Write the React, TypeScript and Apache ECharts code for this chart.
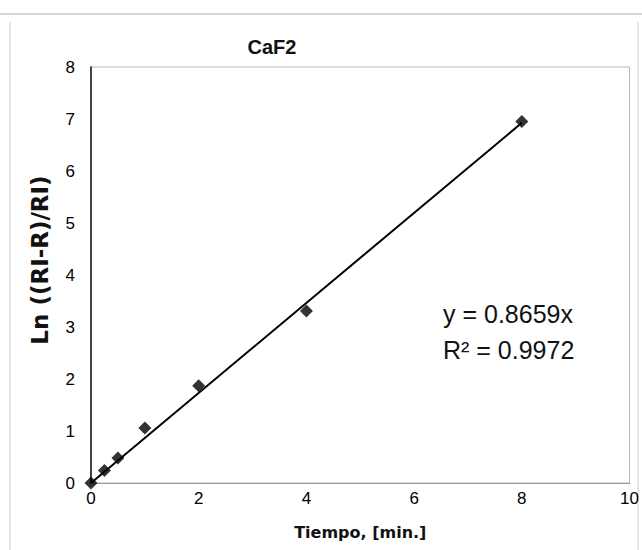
import React, { useEffect, useRef } from "react";
import * as echarts from "echarts";

const timeValues = [0, 0.25, 0.5, 1, 2, 4, 8];
const lnValues = [0, 0.24, 0.48, 1.06, 1.87, 3.31, 6.95];
const trendX = [0, 8];
const trendY = [0, 6.927];
const xTicks = [0, 2, 4, 6, 8, 10];
const yTicks = [0, 1, 2, 3, 4, 5, 6, 7, 8];
const equationLines = ["y = 0.8659x", "R² = 0.9972"];
const yAxisTitle = "Ln ((RI-R)/RI)";
const xAxisTitle = "Tiempo, [min.]";

const FONT = "'Liberation Sans', Arial, sans-serif";
const WIDE = "'DejaVu Sans', Verdana, sans-serif";

export default function App() {
  const ref = useRef<HTMLDivElement>(null);
  useEffect(() => {
    document.body.style.margin = "0";
    if (!ref.current) return;
    const chart = echarts.init(ref.current, undefined, { renderer: "svg" });
    chart.setOption({
      animation: false,
      backgroundColor: "#fff",
      title: {
        text: "CaF2",
        left: 267,
        top: 32,
        textAlign: "center",
        textStyle: { fontFamily: FONT, fontSize: 20, fontWeight: "bold", color: "#111" },
      },
      grid: {
        left: 91,
        right: 12,
        top: 67,
        bottom: 67,
        show: true,
        borderColor: "#b8b8b8",
        borderWidth: 1,
        backgroundColor: "transparent",
      },
      xAxis: {
        type: "value",
        min: xTicks[0],
        max: xTicks[xTicks.length - 1],
        interval: 2,
        name: xAxisTitle,
        nameLocation: "middle",
        nameGap: 41,
        nameTextStyle: { fontFamily: WIDE, fontSize: 16, fontWeight: "bold", color: "#111" },
        axisLine: { lineStyle: { color: "#999", width: 1 } },
        axisTick: { show: false },
        splitLine: { show: false },
        axisLabel: { fontFamily: FONT, fontSize: 17, color: "#000", margin: 7 },
      },
      yAxis: {
        type: "value",
        min: yTicks[0],
        max: yTicks[yTicks.length - 1],
        interval: 1,
        axisLine: { show: true, lineStyle: { color: "#111", width: 1.5 } },
        axisTick: { show: false },
        splitLine: { show: false },
        axisLabel: { fontFamily: FONT, fontSize: 17, color: "#000", margin: 16 },
      },
      graphic: [
        { type: "line", shape: { x1: 0, y1: 14, x2: 642, y2: 14 }, style: { stroke: "#aaa", lineWidth: 1 } },
        { type: "line", shape: { x1: 10, y1: 22, x2: 10, y2: 550 }, style: { stroke: "#ccc", lineWidth: 1 } },
        { type: "line", shape: { x1: 638, y1: 22, x2: 638, y2: 550 }, style: { stroke: "#ccc", lineWidth: 1 } },
        {
          type: "text",
          x: 40,
          y: 260,
          rotation: Math.PI / 2,
          style: {
            text: yAxisTitle,
            font: `bold 23px ${WIDE}`,
            fill: "#111",
            align: "center",
            verticalAlign: "middle",
          },
        },
        {
          type: "text",
          left: 443,
          top: 301,
          style: { text: equationLines[0], font: `25px ${FONT}`, fill: "#111" },
        },
        {
          type: "text",
          left: 443,
          top: 337,
          style: { text: equationLines[1], font: `25px ${FONT}`, fill: "#111" },
        },
      ],
      series: [
        {
          type: "line",
          data: trendX.map((x, i) => [x, trendY[i]]),
          showSymbol: false,
          symbol: "none",
          lineStyle: { color: "#000", width: 2 },
          z: 2,
        },
        {
          type: "scatter",
          data: timeValues.map((x, i) => [x, lnValues[i]]),
          symbol: "diamond",
          symbolSize: 13,
          itemStyle: { color: "#000" },
          z: 3,
        },
      ],
    });
    return () => chart.dispose();
  }, []);
  return <div ref={ref} style={{ width: 642, height: 550 }} />;
}
